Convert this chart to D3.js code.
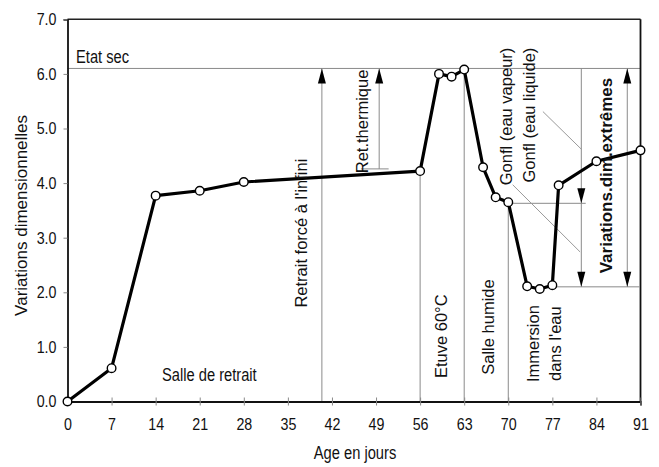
<!DOCTYPE html>
<html>
<head>
<meta charset="utf-8">
<script src="https://cdn.jsdelivr.net/npm/d3@7"></script>
<style>
  html, body { margin: 0; padding: 0; background: #fff; }
  svg { display: block; }
  text { font-family: "Liberation Sans", Arial, sans-serif; fill: #111; }
</style>
</head>
<body>
<svg id="chart" width="659" height="467"></svg>
<script>
// ---- data ----
const days   = [0, 7, 14, 21, 28, 56, 59, 61, 63, 66, 68, 70, 73, 75, 77, 78, 84, 91];
const values = [0, 0.61, 3.77, 3.86, 4.02, 4.22, 6.0, 5.95, 6.08, 4.29, 3.74, 3.65, 2.11, 2.06, 2.13, 3.96, 4.40, 4.60];
const xTicks = [0, 7, 14, 21, 28, 35, 42, 49, 56, 63, 70, 77, 84, 91];
const yTicks = [0, 1, 2, 3, 4, 5, 6, 7];

// vertical guide lines: [day, fromValue, toValue]
const guideLines = [
  [40.4, 0, 6.1],
  [49.5, 4.26, 6.1],
  [56, 0, 4.22],
  [63, 0, 6.08],
  [70, 0, 3.65],
  [81.6, 2.1, 6.1],
  [88.9, 2.1, 6.1]
];
// horizontal guide lines: [value, fromDay, toDay]
const hLines = [
  [6.1, 0, 91],
  [3.63, 70, 82.3],
  [2.1, 77, 90.8],
  [4.26, 46.6, 51]
];
// leader lines: [day1, v1, day2, v2]
const leaders = [
  [75.5, 5.31, 81.7, 4.61],
  [70.7, 3.97, 81.4, 2.74]
];
// arrowheads: [day, tipValue, direction]
const arrows = [
  [40.4, 6.1, "up"],
  [49.5, 6.1, "up"],
  [81.6, 3.63, "down"],
  [81.6, 2.1, "down"],
  [88.9, 6.1, "up"],
  [88.9, 2.1, "down"]
];
// horizontal labels: [text, day, value]
const hLabels = [
  ["Etat sec", 1.35, 6.2],
  ["Salle de retrait", 15.0, 0.37]
];
// rotated labels: [text, day, value, anchor, bold]
const vLabels = [
  ["Retrait forcé à l'infini", 37.1, 1.72, "start", false],
  ["Ret.thermique", 46.85, 4.18, "start", false],
  ["Etuve 60°C", 59.4, 0.43, "start", false],
  ["Salle humide", 66.8, 0.49, "start", false],
  ["Immersion", 73.95, 1.06, "middle", false],
  ["dans l'eau", 77.5, 1.06, "middle", false],
  ["Gonfl (eau vapeur)", 69.75, 6.48, "end", false],
  ["Gonfl (eau liquide)", 73.35, 6.48, "end", false],
  ["Variations.dim.extrêmes", 85.6, 5.93, "end", true]
];

// ---- drawing ----
const svg = d3.select("#chart");
const x = d3.scaleLinear().domain([0, 91]).range([67.5, 640.5]);
const y = d3.scaleLinear().domain([0, 7]).range([401.5, 19.3]);

const gray = "#8a8a8a";
const squeeze = 0.84;

// guide lines
svg.append("g").selectAll("line").data(guideLines).join("line")
  .attr("x1", d => x(d[0])).attr("x2", d => x(d[0]))
  .attr("y1", d => y(d[1])).attr("y2", d => y(d[2]))
  .attr("stroke", gray).attr("stroke-width", 1);
svg.append("g").selectAll("line").data(hLines).join("line")
  .attr("x1", d => x(d[1])).attr("x2", d => x(d[2]))
  .attr("y1", d => y(d[0])).attr("y2", d => y(d[0]))
  .attr("stroke", gray).attr("stroke-width", 1);
svg.append("g").selectAll("line").data(leaders).join("line")
  .attr("x1", d => x(d[0])).attr("y1", d => y(d[1]))
  .attr("x2", d => x(d[2])).attr("y2", d => y(d[3]))
  .attr("stroke", "#9a9a9a").attr("stroke-width", 1);

// arrowheads
svg.append("g").selectAll("path").data(arrows).join("path")
  .attr("d", d => {
    const px = x(d[0]), py = y(d[1]);
    const s = d[2] === "up" ? 1 : -1;
    return `M${px},${py} L${px - 4},${py + s * 15} L${px + 4},${py + s * 15} Z`;
  })
  .attr("fill", "#000");

// frame (top and right)
svg.append("line").attr("x1", x(0)).attr("x2", x(91)).attr("y1", y(7)).attr("y2", y(7))
  .attr("stroke", "#222").attr("stroke-width", 1.5);
svg.append("line").attr("x1", x(91)).attr("x2", x(91)).attr("y1", y(7)).attr("y2", y(0))
  .attr("stroke", "#111").attr("stroke-width", 1.8);

// axes
const xAxis = svg.append("g").attr("transform", `translate(0,${y(0)})`)
  .call(d3.axisBottom(x).tickValues(xTicks).tickFormat(d3.format("d")).tickSize(4).tickPadding(12));
xAxis.select(".domain").attr("stroke", "#111").attr("stroke-width", 1.8);
xAxis.selectAll(".tick line").attr("stroke", gray).attr("y1", -4);
xAxis.selectAll(".tick text").attr("font-size", 17).attr("fill", "#111")
  .attr("font-family", "'Liberation Sans', sans-serif")
  .attr("transform", `scale(${squeeze},1)`);

const yAxis = svg.append("g").attr("transform", `translate(${x(0)},0)`)
  .call(d3.axisLeft(y).tickValues(yTicks).tickFormat(d3.format(".1f")).tickSize(4).tickPadding(7));
yAxis.select(".domain").attr("stroke", "#111").attr("stroke-width", 1.8);
yAxis.selectAll(".tick line").attr("stroke", gray);
yAxis.selectAll(".tick text").attr("font-size", 17).attr("fill", "#111")
  .attr("transform", function () {
    const tx = +d3.select(this).attr("x");
    return `translate(${tx},0) scale(${squeeze},1) translate(${-tx},0)`;
  });

// axis titles
svg.append("text")
  .attr("transform", `translate(355,459) scale(${squeeze},1)`)
  .attr("text-anchor", "middle").attr("font-size", 17.5)
  .text("Age en jours");
svg.append("text")
  .attr("transform", `translate(21,${(y(0) + y(7)) / 2 + 5}) rotate(-90)`)
  .attr("text-anchor", "middle").attr("dy", "0.35em").attr("font-size", 17)
  .text("Variations dimensionnelles");

// series line + markers
const pts = days.map((d, i) => [d, values[i]]);
svg.append("path").datum(pts)
  .attr("d", d3.line().x(d => x(d[0])).y(d => y(d[1])))
  .attr("fill", "none").attr("stroke", "#000").attr("stroke-width", 3.2)
  .attr("stroke-linejoin", "round");
svg.append("g").selectAll("circle").data(pts).join("circle")
  .attr("cx", d => x(d[0])).attr("cy", d => y(d[1])).attr("r", 4.3)
  .attr("fill", "#fff").attr("stroke", "#000").attr("stroke-width", 1.4);

// horizontal labels
svg.append("g").selectAll("text").data(hLabels).join("text")
  .attr("transform", d => `translate(${x(d[1])},${y(d[2])}) scale(${squeeze},1)`)
  .attr("font-size", 17.5)
  .text(d => d[0]);

// rotated labels
svg.append("g").selectAll("text").data(vLabels).join("text")
  .attr("transform", d => `translate(${x(d[1])},${y(d[2])}) rotate(-90)`)
  .attr("dy", "0.35em")
  .attr("text-anchor", d => d[3])
  .attr("font-size", d => d[4] ? 17 : 16.5)
  .attr("font-weight", d => d[4] ? "bold" : "normal")
  .text(d => d[0]);
</script>
</body>
</html>
